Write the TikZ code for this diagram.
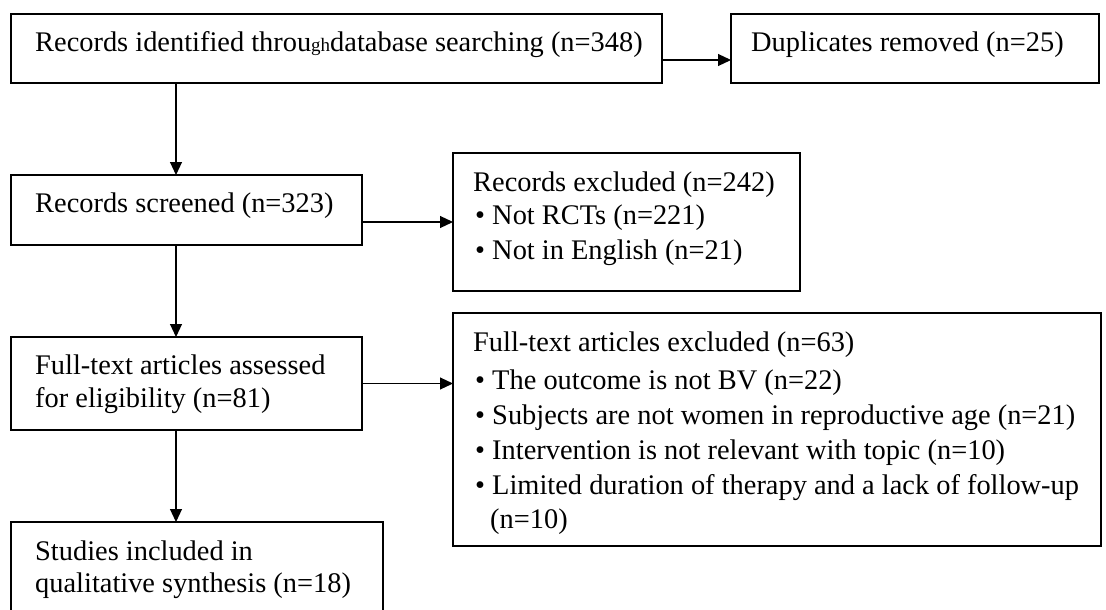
\documentclass[tikz,border=0pt]{standalone}
\usepackage{fontspec}
\setmainfont{Liberation Serif}
\usetikzlibrary{arrows.meta}
\tikzset{
  box/.style={draw, line width=1.3pt, rectangle, anchor=north west, inner sep=0pt, outer sep=0pt},
  txt/.style={anchor=base west, inner sep=0pt, font=\fontsize{28.4}{33}\selectfont},
  arr/.style={line width=1.1pt, -{Triangle[length=13pt,width=12pt]}},
}
\begin{document}
\begin{tikzpicture}[x=1pt,y=-1pt]
\clip (0,0) rectangle (1106,610);
\fill[white] (0,0) rectangle (1106,610);

% boxes
\node[box, minimum width=651, minimum height=69] (b1) at (11,14) {};
\node[box, minimum width=368, minimum height=69] (b2) at (731,14) {};
\node[box, minimum width=351, minimum height=70] (b3) at (11,175) {};
\node[box, minimum width=347, minimum height=138] (b4) at (453,153) {};
\node[box, minimum width=351, minimum height=93] (b5) at (11,337) {};
\node[box, minimum width=648, minimum height=233] (b6) at (453,313) {};
\node[box, minimum width=372, minimum height=120] (b7) at (11,522) {};

% texts
\node[txt] (t1) at (35,52) {Records identified throu{\fontsize{19}{19}\selectfont gh}database searching (n=348)};
\node[txt] (t2) at (751,52) {Duplicates removed (n=25)};
\node[txt] (t3) at (35,212) {Records screened (n=323)};
\node[txt] (t4a) at (473,191) {Records excluded (n=242)};
\node[txt] (t4b) at (475,224) {• Not RCTs (n=221)};
\node[txt] (t4c) at (475,259) {• Not in English (n=21)};
\node[txt] (t5a) at (35,374) {Full-text articles assessed};
\node[txt] (t5b) at (35,407) {for eligibility (n=81)};
\node[txt] (t6a) at (473,351) {Full-text articles excluded (n=63)};
\node[txt] (t6b) at (475,389) {• The outcome is not BV (n=22)};
\node[txt] (t6c) at (475,424) {• Subjects are not women in reproductive age (n=21)};
\node[txt] (t6d) at (475,459) {• Intervention is not relevant with topic (n=10)};
\node[txt] (t6e) at (475,494) {• Limited duration of therapy and a lack of follow-up};
\node[txt] (t6f) at (490,528) {(n=10)};
\node[txt] (t7a) at (35,560) {Studies included in};
\node[txt] (t7b) at (35,592) {qualitative synthesis (n=18)};

% connectors
\draw[arr] ([yshift=-11.5pt]b1.east) -- ([yshift=-11.5pt]b1.east -| b2.west);
\draw[arr] ([yshift=-12pt]b3.east) -- ([yshift=-12pt]b3.east -| b4.west);
\draw[arr] (b5.east) -- (b5.east -| b6.west);
\draw[arr] ([xshift=165pt]b1.south west) -- ([xshift=165pt]b1.south west |- b3.north);
\draw[arr] ([xshift=165pt]b3.south west) -- ([xshift=165pt]b3.south west |- b5.north);
\draw[arr] ([xshift=165pt]b5.south west) -- ([xshift=165pt]b5.south west |- b7.north);
\end{tikzpicture}
\end{document}
